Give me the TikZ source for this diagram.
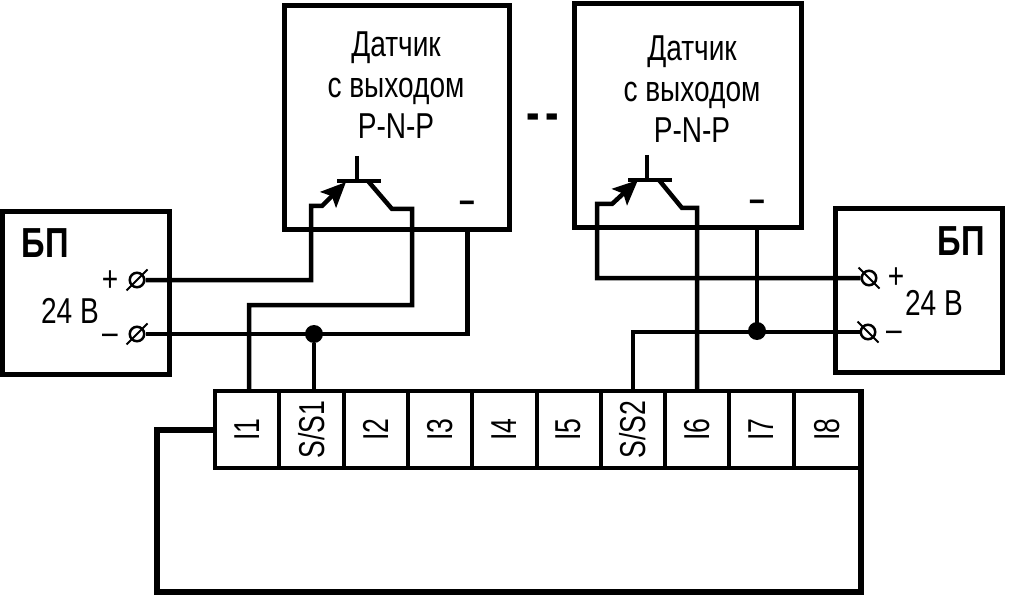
\documentclass[tikz,border=0pt]{standalone}
\usepackage{fontspec}
\setmainfont[FakeStretch=0.78]{Liberation Sans}
\newfontfamily\narrowfont[FakeStretch=0.74]{Liberation Sans}
\usetikzlibrary{arrows.meta}
\tikzset{
  box/.style={draw,line width=5pt,inner sep=0pt},
  cell/.style={draw,line width=4pt,inner sep=0pt,minimum width=64.3pt,minimum height=77pt,font=\narrowfont\fontsize{36}{36}\selectfont},
  wire/.style={line width=4.5pt},
  thick wire/.style={line width=6pt},
  screw/.style={draw,circle,line width=2.5pt,minimum size=14.5pt,inner sep=0pt},
  slash/.style={line width=2pt},
  lab/.style={inner sep=0pt,align=center,font=\fontsize{36}{41}\selectfont},
  bp/.style={inner sep=0pt,font=\fontsize{42}{42}\selectfont\bfseries},
  volt/.style={inner sep=0pt,font=\fontsize{36}{36}\selectfont},
  sign/.style={inner sep=0pt,font=\fontsize{36}{36}\selectfont},
  minus/.style={inner sep=0pt,font=\fontsize{36}{36}\selectfont\bfseries}
}
\begin{document}
\begin{tikzpicture}[x=1pt,y=-1pt]
  \useasboundingbox (0,0) rectangle (1013,615);

  % sensors and power supplies
  \node[box,minimum width=225.5pt,minimum height=224pt] (dat1) at (397.2,117.5) {};
  \node[box,minimum width=226.5pt,minimum height=224pt] (dat2) at (687.8,116) {};
  \node[box,minimum width=167pt,minimum height=163.5pt] (bpl) at (86,293.2) {};
  \node[box,minimum width=166.5pt,minimum height=163pt] (bpr) at (918.8,290.5) {};

  \node[lab] (dat1txt) at (396,85) {Датчик\\с выходом\\P-N-P};
  \node[lab] (dat2txt) at (692,89) {Датчик\\с выходом\\P-N-P};
  \node[inner sep=0pt,font=\fontsize{52}{52}\selectfont\bfseries] (dots) at (543,122) {-\kern6pt-};

  \node[bp] (bpltxt) at (45,243) {БП};
  \node[bp] (bprtxt) at (961,241) {БП};
  \node[volt] (vl) at (70,311) {24 В};
  \node[volt] (vr) at (934,303) {24 В};
  \node[sign] (pl) at (110,281) {+};
  \node[sign] (ml) at (110,339) {–};
  \node[sign] (pr) at (896,278) {+};
  \node[sign] (mr) at (894,336) {–};
  \node[minus] (minus1) at (467.5,207) {–};
  \node[minus] (minus2) at (757,206) {–};

  % terminals
  \node[screw] (scrlp) at (137,280) {};
  \node[screw] (scrlm) at (137,334) {};
  \node[screw] (scrrp) at (869,278) {};
  \node[screw] (scrrm) at (868,332) {};
  \foreach \s in {scrlp,scrlm}
    \draw[slash] ([shift={(-10.5,10.5)}]\s.center) -- ([shift={(10.5,-10.5)}]\s.center);
  \foreach \s in {scrrp,scrrm}
    \draw[slash] ([shift={(-10.5,-10.5)}]\s.center) -- ([shift={(10.5,10.5)}]\s.center);

  % input block
  \foreach \n/\t [count=\i from 0] in {i1/I1,ss1/{S/S1},i2/I2,i3/I3,i4/I4,i5/I5,ss2/{S/S2},i6/I6,i7/I7}
    \node[cell] (\n) at (247.2+64.3*\i,429.5) {\rotatebox{90}{\t}};
  \node[cell,minimum width=67pt] (i8) at (827.5,429.5) {\rotatebox{90}{I8}};

  % first transistor
  \coordinate (b1) at (357,181);
  \coordinate (e1a) at (311,206);
  \coordinate (e1b) at (322,206);
  \coordinate (e1c) at (346,182);
  \coordinate (c1a) at (368,181);
  \coordinate (c1b) at (392,209);
  \coordinate (c1c) at (412,209);
  \coordinate (c1d) at (412,305);
  \coordinate (b1t) at (357,156);
  \draw[wire] (b1t) -- (b1);
  \draw[wire] ([xshift=-20pt]b1) -- ([xshift=24pt]b1);
  \draw[wire,-{Stealth[length=25pt,width=22pt,inset=5pt]}] (scrlp.east) -| (e1a) -- (e1b) -- (e1c);
  \draw[wire] (c1a) -- (c1b) -- (c1c) -- (c1d) -| ([xshift=2pt]i1.north);

  % second transistor
  \coordinate (b2) at (647,180);
  \coordinate (e2a) at (597,204);
  \coordinate (e2b) at (612,204);
  \coordinate (e2c) at (638,180);
  \coordinate (c2a) at (659,180);
  \coordinate (c2b) at (682,208);
  \coordinate (c2c) at (697,208);
  \coordinate (b2t) at (647,155);
  \draw[wire] (b2t) -- (b2);
  \draw[wire] ([xshift=-19pt]b2) -- ([xshift=25pt]b2);
  \draw[wire,-{Stealth[length=25pt,width=22pt,inset=5pt]}] (scrrp.west) -| (e2a) -- (e2b) -- (e2c);
  \draw[wire] (c2a) -- (c2b) -- (c2c) -- (c2c |- i6.north);

  % minus lines
  \draw[wire] (minus1 |- dat1.south) |- (scrlm.east);
  \draw[wire] (minus2 |- dat2.south) -- (minus2 |- scrrm);
  \draw[wire] (scrrm.west) -| (ss2.north);
  \node[circle,fill,inner sep=0pt,minimum size=18pt] (dot1) at (314,334) {};
  \node[circle,fill,inner sep=0pt,minimum size=18pt] (dot2) at (757,331) {};
  \draw[wire] (dot1) -- (dot1 |- ss1.north);

  % feedback around the block
  \coordinate (fa) at (157,592);
  \coordinate (fb) at (861,592);
  \draw[thick wire] (i1.west) -| (fa) -- (fb) -- (fb |- i8.north);
\end{tikzpicture}
\end{document}
